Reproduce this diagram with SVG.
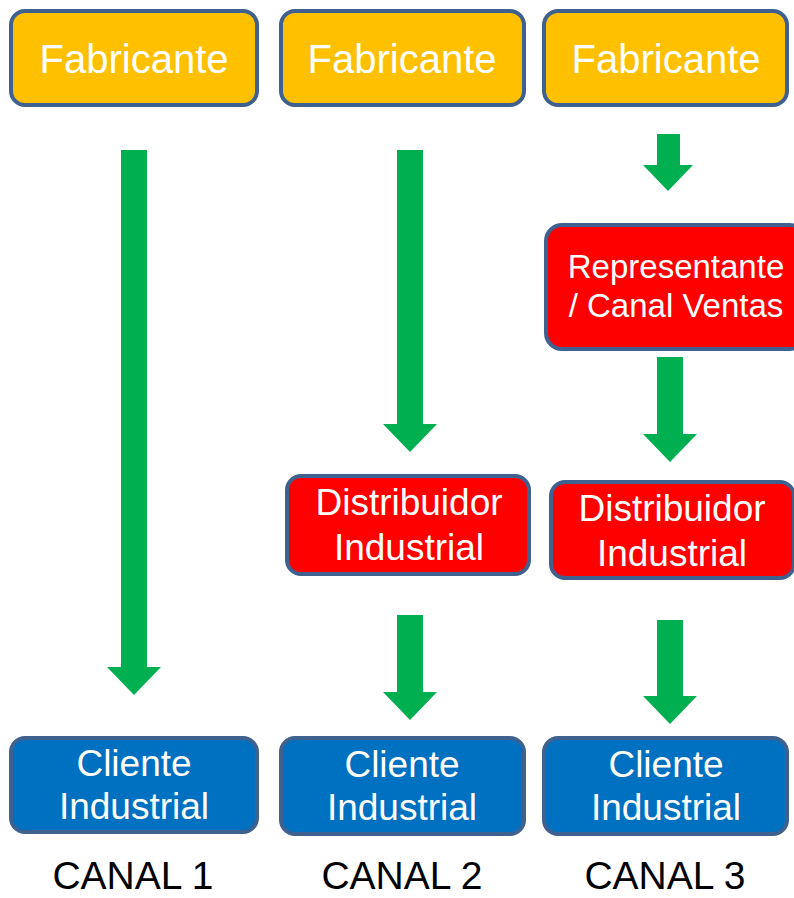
<svg xmlns="http://www.w3.org/2000/svg" width="794" height="898" viewBox="0 0 794 898">
<style>
.box{stroke:#3F6190;stroke-width:4}
.fab{fill:#FFC000}
.red{fill:#FF0000}
.blue{fill:#0070C0}
.t{font-family:"Liberation Sans",Arial,sans-serif;fill:#FFFFFF;text-anchor:middle}
.lbl{font-family:"Liberation Sans",Arial,sans-serif;fill:#000000;text-anchor:middle;font-size:39px}
.arr{fill:#00B050}
</style>
<rect width="794" height="898" fill="#FFFFFF"/>
<g id="fab1"><rect class="box fab" x="11" y="11" width="246" height="94" rx="14"/><text class="t" x="134" y="73" font-size="40">Fabricante</text></g>
<g id="fab2"><rect class="box fab" x="281" y="11" width="243" height="94" rx="14"/><text class="t" x="402" y="73" font-size="40">Fabricante</text></g>
<g id="fab3"><rect class="box fab" x="544" y="11" width="243" height="94" rx="14"/><text class="t" x="666" y="73" font-size="40">Fabricante</text></g>
<g id="rep3"><rect class="box red" x="546" y="225" width="260" height="124" rx="16"/><text class="t" x="676" y="278" font-size="33">Representante</text><text class="t" x="676" y="317" font-size="33">/ Canal Ventas</text></g>
<g id="dist2"><rect class="box red" x="287" y="476" width="242" height="98" rx="14"/><text class="t" x="409" y="515" font-size="37">Distribuidor</text><text class="t" x="409" y="560" font-size="37">Industrial</text></g>
<g id="dist3"><rect class="box red" x="551" y="482" width="243" height="96" rx="14"/><text class="t" x="672" y="521" font-size="37">Distribuidor</text><text class="t" x="672" y="566" font-size="37">Industrial</text></g>
<g id="cli1"><rect class="box blue" x="11" y="738" width="246" height="94" rx="14"/><text class="t" x="134" y="776" font-size="37">Cliente</text><text class="t" x="134" y="819" font-size="37">Industrial</text></g>
<g id="cli2"><rect class="box blue" x="281" y="738" width="243" height="96" rx="14"/><text class="t" x="402" y="777" font-size="37">Cliente</text><text class="t" x="402" y="820" font-size="37">Industrial</text></g>
<g id="cli3"><rect class="box blue" x="544" y="738" width="243" height="96" rx="14"/><text class="t" x="666" y="777" font-size="37">Cliente</text><text class="t" x="666" y="820" font-size="37">Industrial</text></g>
<g id="labels">
<text class="lbl" x="133" y="889">CANAL 1</text>
<text class="lbl" x="402" y="889">CANAL 2</text>
<text class="lbl" x="665" y="889">CANAL 3</text>
</g>
<g id="connectors">
<polygon class="arr" points="121,150 147,150 147,667 161,667 134,695 107,667 121,667"/>
<polygon class="arr" points="397,150 423,150 423,424 437,424 410,452 383,424 397,424"/>
<polygon class="arr" points="397,615 423,615 423,692 437,692 410,720 383,692 397,692"/>
<polygon class="arr" points="657,134 680,134 680,165 693,165 668,191 643,165 657,165"/>
<polygon class="arr" points="657,357 683,357 683,434 697,434 670,462 643,434 657,434"/>
<polygon class="arr" points="657,620 683,620 683,696 697,696 670,724 643,696 657,696"/>
</g>
</svg>
